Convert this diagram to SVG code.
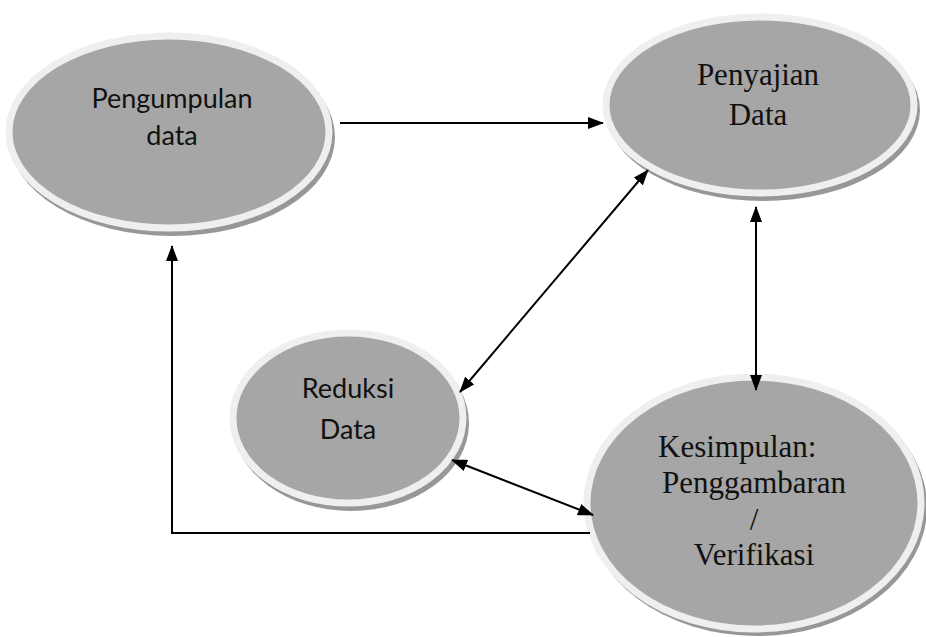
<svg xmlns="http://www.w3.org/2000/svg" width="926" height="637" viewBox="0 0 926 637">
<defs>
<style>
.shadow{fill:#979797;}
.node{fill:#a6a6a6;stroke:#efefef;stroke-width:7;}
.sans{font-family:Lato,"Liberation Sans",sans-serif;font-size:27px;fill:#111;text-anchor:middle;}
.serif{font-family:"Liberation Serif","Times New Roman",serif;font-size:31px;fill:#111;text-anchor:middle;}
.conn{fill:none;stroke:#000;stroke-width:2;}
</style>
<marker id="ah" viewBox="0 0 16 12" refX="15" refY="6" markerWidth="16" markerHeight="12" markerUnits="userSpaceOnUse" orient="auto-start-reverse">
<path d="M0,0 L16,6 L0,12 Z" fill="#000"/>
</marker>
</defs>
<rect width="926" height="637" fill="#fff"/>
<g id="pengumpulan">
<ellipse class="shadow" cx="172" cy="137" rx="163" ry="99"/>
<ellipse class="node" cx="169" cy="132" rx="160" ry="96"/>
<text class="sans" x="172" y="108">Pengumpulan</text>
<text class="sans" x="172" y="145">data</text>
</g>
<g id="penyajian">
<ellipse class="shadow" cx="763" cy="110" rx="157" ry="91"/>
<ellipse class="node" cx="760" cy="105" rx="154" ry="88"/>
<text class="serif" x="758" y="85">Penyajian</text>
<text class="serif" x="758" y="125">Data</text>
</g>
<g id="reduksi">
<ellipse class="shadow" cx="351" cy="423" rx="118" ry="88"/>
<ellipse class="node" cx="348" cy="418" rx="115" ry="85"/>
<text class="sans" x="348" y="398">Reduksi</text>
<text class="sans" x="348" y="439">Data</text>
</g>
<g id="kesimpulan">
<ellipse class="shadow" cx="757" cy="507" rx="170" ry="129"/>
<ellipse class="node" cx="754" cy="503" rx="167" ry="126"/>
<text class="serif" x="658" y="457" style="text-anchor:start">Kesimpulan:</text>
<text class="serif" x="754" y="493">Penggambaran</text>
<text class="serif" x="754" y="530">/</text>
<text class="serif" x="754" y="565">Verifikasi</text>
</g>
<g id="connectors">
<line class="conn" x1="340" y1="123" x2="603" y2="123" marker-end="url(#ah)"/>
<line class="conn" x1="460" y1="392" x2="648" y2="170" marker-start="url(#ah)" marker-end="url(#ah)"/>
<line class="conn" x1="756" y1="207" x2="756" y2="390" marker-start="url(#ah)" marker-end="url(#ah)"/>
<line class="conn" x1="452" y1="460" x2="593" y2="515" marker-start="url(#ah)" marker-end="url(#ah)"/>
<polyline class="conn" points="590,533 172,533 172,246" marker-end="url(#ah)"/>
</g>
</svg>
